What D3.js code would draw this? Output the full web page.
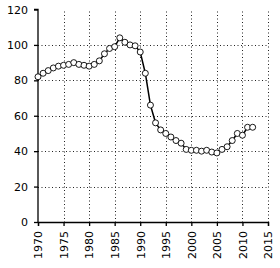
<!DOCTYPE html>
<html><head><meta charset="utf-8">
<script src="https://cdn.jsdelivr.net/npm/d3@7"></script>
<style>body{margin:0;background:#fff}svg{display:block}</style>
</head><body>
<script>
const years = [1970,1971,1972,1973,1974,1975,1976,1977,1978,1979,1980,1981,1982,1983,1984,1985,1986,1987,1988,1989,1990,1991,1992,1993,1994,1995,1996,1997,1998,1999,2000,2001,2002,2003,2004,2005,2006,2007,2008,2009,2010,2011,2012];
const values = [82,84,85.5,87,88,88.5,89,90,89,88.5,88,89,91,95,98,99,104,101.5,100,99.5,96,84,66,56,52,50,48,46,44.5,41,40.5,40.5,40,40.5,39.5,39,41,42.5,46,50,49,53.5,53.5];
const xTicks = [1970,1975,1980,1985,1990,1995,2000,2005,2010,2015];
const yTicks = [0,20,40,60,80,100,120];

const W=280,H=268, L=38, R=268, T=9.5, B=222;
const svg = d3.select("body").append("svg").attr("width",W).attr("height",H);
const x = d3.scaleLinear().domain([1970,2015]).range([L,R]);
const y = d3.scaleLinear().domain([0,120]).range([B,T]);

// grid
const g = svg.append("g");
g.selectAll(".vg").data(xTicks.slice(1)).join("line")
  .attr("x1",d=>Math.round(x(d))+0.5).attr("x2",d=>Math.round(x(d))+0.5)
  .attr("y1",T+2).attr("y2",B)
  .attr("stroke","#222").attr("stroke-width",1).attr("stroke-dasharray","1,2.5");
g.selectAll(".hg").data(yTicks.filter(d=>d>0&&d<120)).join("line")
  .attr("y1",d=>Math.round(y(d))+0.5).attr("y2",d=>Math.round(y(d))+0.5)
  .attr("x1",L).attr("x2",R)
  .attr("stroke","#222").attr("stroke-width",1).attr("stroke-dasharray","1,2.5");

// axes
const yAxis = svg.append("g").attr("transform",`translate(${L},0)`)
  .call(d3.axisLeft(y).tickValues(yTicks).tickSize(4).tickPadding(6));
const xAxis = svg.append("g").attr("transform",`translate(0,${B})`)
  .call(d3.axisBottom(x).tickValues(xTicks).tickSize(4).tickPadding(5));
[yAxis,xAxis].forEach(a=>{
  a.select(".domain").attr("stroke","#000").attr("stroke-width",1.3);
  a.selectAll(".tick line").attr("stroke","#000").attr("stroke-width",1.3);
  a.selectAll("text").attr("font-family","DejaVu Sans, sans-serif").attr("font-size","11px").attr("fill","#000");
});
yAxis.select(".domain").attr("d",`M-4,${T}H0V${B}`);
xAxis.selectAll(".tick text")
  .text(d=>String(d))
  .attr("y",0).attr("x",-9).attr("dy","0.35em")
  .style("text-anchor","end")
  .style("transform","rotate(-90deg)")
  .attr("transform","rotate(-90)");

// line
const line = d3.line().x((d,i)=>x(years[i])).y(d=>y(d));
svg.append("path").datum(values).attr("d",line)
  .attr("fill","none").attr("stroke","#000").attr("stroke-width",1.5);
svg.selectAll(".pt").data(values).join("circle")
  .attr("cx",(d,i)=>x(years[i])).attr("cy",d=>y(d)).attr("r",3)
  .attr("fill","#fff").attr("stroke","#000").attr("stroke-width",0.9);
</script>
</body></html>
